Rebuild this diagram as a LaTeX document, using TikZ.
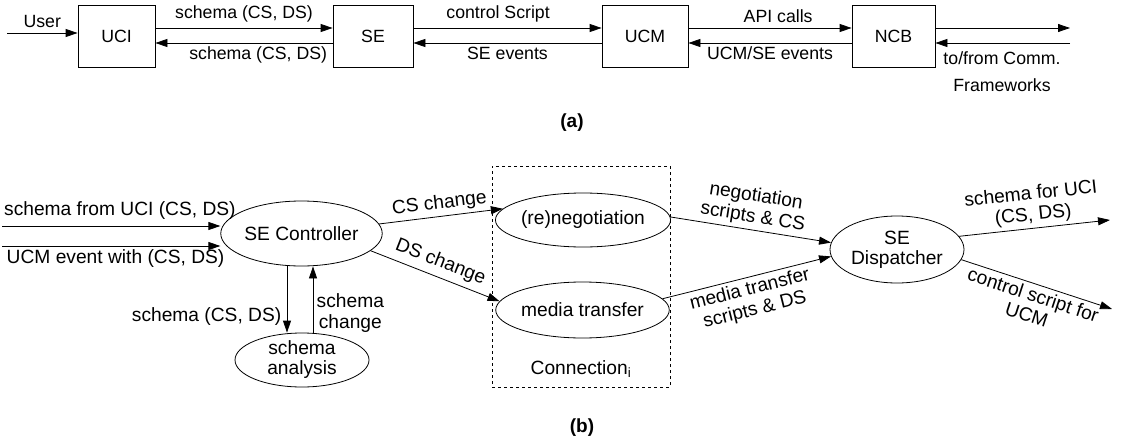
\documentclass[tikz,border=0pt]{standalone}
\usepackage{fontspec}
\setmainfont{Liberation Sans}
\usetikzlibrary{arrows.meta,shapes,positioning}

\begin{document}
\begin{tikzpicture}[x=1pt,y=-1pt,
    block/.style={rectangle,draw,thick,minimum width=80pt,minimum height=62pt,inner sep=0pt,font=\fontsize{17.7}{19}\selectfont},
    proc/.style={ellipse,draw,thick,inner sep=0pt,align=center,font=\fontsize{19.2}{20}\selectfont},
    flow/.style={draw,thick,-{Triangle[length=12pt,width=8pt]}},
    toplbl/.style={font=\fontsize{17.7}{19}\selectfont},
    botlbl/.style={font=\fontsize{19.2}{21}\selectfont,align=center},
    caption/.style={font=\fontsize{19}{21}\selectfont\bfseries}
  ]
    \useasboundingbox (0,0) rectangle (1129,444);

    % (a) component chain
    \node[block,minimum width=77pt] (uci) at (116.5,36) {UCI};
    \node[block] (se) at (373,36) {SE};
    \node[block,minimum width=86pt] (ucm) at (645,36) {UCM};
    \node[block,minimum width=83pt] (ncb) at (893.5,36) {NCB};
    \coordinate (user) at (7,33);
    \coordinate (commout) at (1070,28);
    \coordinate (commin) at (1070,43);

    \draw[flow] (user) -- (user -| uci.west) node[midway,above=2pt,toplbl] (userlbl) {User};
    \draw[flow] ([yshift=8pt]uci.east) -- ([yshift=8pt]se.west) node[midway,above=2pt,toplbl] (sch1) {schema (CS, DS)};
    \draw[flow] ([yshift=-7pt]se.west) -- ([yshift=-7pt]uci.east) node[pos=0.42,below,toplbl] (sch2) {schema (CS, DS)};
    \draw[flow] ([yshift=8pt]se.east) -- ([yshift=8pt]ucm.west) node[pos=0.45,above=2pt,toplbl] (ctlscr) {control Script};
    \draw[flow] ([yshift=-7pt]ucm.west) -- ([yshift=-7pt]se.east) node[midway,below,toplbl] (seev) {SE events};
    \draw[flow] ([yshift=8pt]ucm.east) -- ([yshift=8pt]ncb.west) node[pos=0.55,above=2pt,toplbl] (api) {API calls};
    \draw[flow] ([yshift=-7pt]ncb.west) -- ([yshift=-7pt]ucm.east) node[midway,below,toplbl] (ucmev) {UCM/SE events};
    \draw[flow] ([yshift=8pt]ncb.east) -- (commout);
    \draw[flow] (commin) -- ([yshift=-7pt]ncb.east);
    \node[toplbl,align=center] (comm) at (1002,72) {to/from Comm.\\[8pt]Frameworks};

    \node[caption] (capa) at (572,123) {(a)};

    % (b) SE internals
    \node[proc,minimum width=135pt,minimum height=65pt] (ctrl) at (301.5,233.5) {SE Controller};
    \node[proc,minimum width=134pt,minimum height=54pt] (ana) at (302,360) {schema\\analysis};
    \node[draw,dashed,thick,minimum width=178pt,minimum height=221pt] (conn) at (581,276.5) {};
    \node[proc,minimum width=138pt,minimum height=54pt] (nego) at (583,220) {(re)negotiation};
    \node[proc,minimum width=141pt,minimum height=56pt] (media) at (582.5,310) {media transfer};
    \node[proc,minimum width=134pt,minimum height=67pt] (disp) at (897,249.5) {SE\\Dispatcher};
    \node[botlbl] (connlbl) at (581,369) {Connection\textsubscript{i}};
    \coordinate (inuci) at (2,226);
    \coordinate (inucm) at (2,246);
    \coordinate (outuci) at (1110,220);
    \coordinate (outucm) at (1112,309);

    \draw[flow] (inuci) -- (inuci -| ctrl.west) node[pos=0.54,above=3pt,botlbl] (inucilbl) {schema from UCI (CS, DS)};
    \draw[flow] (inucm) -- (inucm -| ctrl.west) node[pos=0.52,below,botlbl] (inucmlbl) {UCM event with (CS, DS)};
    \draw[flow] ([xshift=-14.5pt]ctrl.south) -- ([xshift=-15pt]ana.north) node[pos=0.75,left=2pt,botlbl] (schlbl) {schema (CS, DS)};
    \draw[flow] ([xshift=11pt]ana.north) -- ([xshift=11.5pt]ctrl.south) node[pos=0.3,right,botlbl] (chglbl) {schema\\change};
    \draw[flow] (ctrl.7) -- (nego.172) node[midway,above,sloped,botlbl] (cslbl) {CS change};
    \draw[flow] (ctrl.-14) -- (media.174) node[midway,above=2pt,sloped,botlbl] (dslbl) {DS change};
    \draw[flow] (nego.2) -- (disp.174) node[midway,above,sloped,botlbl] (negolbl) {negotiation\\scripts \& CS};
    \draw[flow] (media.8) -- (disp.186) node[midway,below,sloped,botlbl] (medialbl) {media transfer\\scripts \& DS};
    \draw[flow] (disp.12) -- (outuci) node[midway,above,sloped,botlbl] (uciout) {schema for UCI\\(CS, DS)};
    \draw[flow] (disp.-9) -- (outucm) node[midway,below,sloped,botlbl] (ucmout) {control script for\\UCM};

    \node[caption] (capb) at (582,428) {(b)};
\end{tikzpicture}
\end{document}
